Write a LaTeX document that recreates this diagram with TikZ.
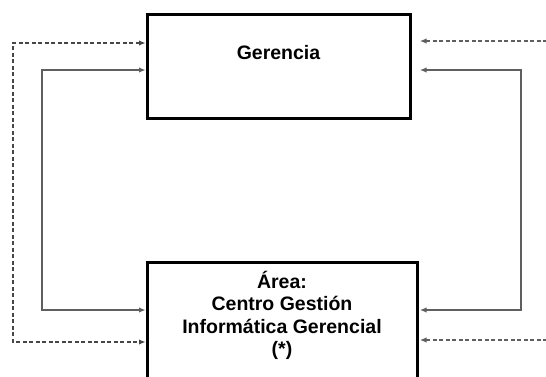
\documentclass[tikz,border=0pt]{standalone}
\usepackage{fontspec}
\setmainfont{Liberation Sans}
\usepackage{xcolor}
\definecolor{lgrey}{RGB}{95,95,95}
\definecolor{dgrey}{RGB}{70,70,70}
\usetikzlibrary{arrows.meta,calc}
\tikzset{
  caja/.style={draw=black,line width=3pt,fill=white,inner sep=0pt},
  rotulo/.style={inner sep=0pt,align=center,font=\fontsize{19.5}{22.3}\selectfont\bfseries},
  flujo/.style={draw=lgrey,line width=1.2pt,{Latex[length=6.5pt,width=5.5pt]}-{Latex[length=6.5pt,width=5.5pt]}},
  aviso/.style={draw=dgrey,line width=1.2pt,dash pattern=on 4pt off 2.5pt,-{Latex[length=6.5pt,width=5.5pt]}}
}

\begin{document}
\begin{tikzpicture}[x=1pt,y=-1pt]
    \clip (0,0) rectangle (546,376);
    \pgfmathsetmacro{\xl}{13};
    \pgfmathsetmacro{\xs}{42};
    \pgfmathsetmacro{\xr}{521};
    \node[caja,minimum width=263pt,minimum height=104pt] (ger) at (278.5,66) {};
    \node[caja,minimum width=270pt,minimum height=138pt] (area) at (282,331) {};
    \node[rotulo] (gertxt) at ($(ger.north)+(0,40.5)$) {Gerencia};
    \node[rotulo,anchor=north] (areatxt) at ($(area.north)+(0,10.5)$) {Área:\\Centro Gestión\\Informática Gerencial\\(*)};
    \coordinate (rx) at ([xshift=1.5pt]area.east);
    \coordinate (dlT) at (\xl,43);
    \coordinate (dlB) at (\xl,342);
    \coordinate (slT) at (\xs,70);
    \coordinate (slB) at (\xs,310);
    \coordinate (srT) at (\xr,70);
    \coordinate (srB) at (\xr,310);
    \coordinate (drT) at (560,41);
    \coordinate (drB) at (560,340);

    \draw[aviso,{Latex[length=6.5pt,width=5.5pt]}-{Latex[length=6.5pt,width=5.5pt]}] (ger.west |- dlT) -- (dlT) -- (dlB) -- (area.west |- dlB);
    \draw[flujo] (ger.west |- slT) -- (slT) -- (slB) -- (area.west |- slB);
    \draw[flujo] (rx |- srT) -- (srT) -- (srB) -- (rx |- srB);
    \draw[aviso,draw=lgrey] (drT) -- (rx |- drT);
    \draw[aviso,draw=lgrey] (drB) -- (rx |- drB);
\end{tikzpicture}
\end{document}
